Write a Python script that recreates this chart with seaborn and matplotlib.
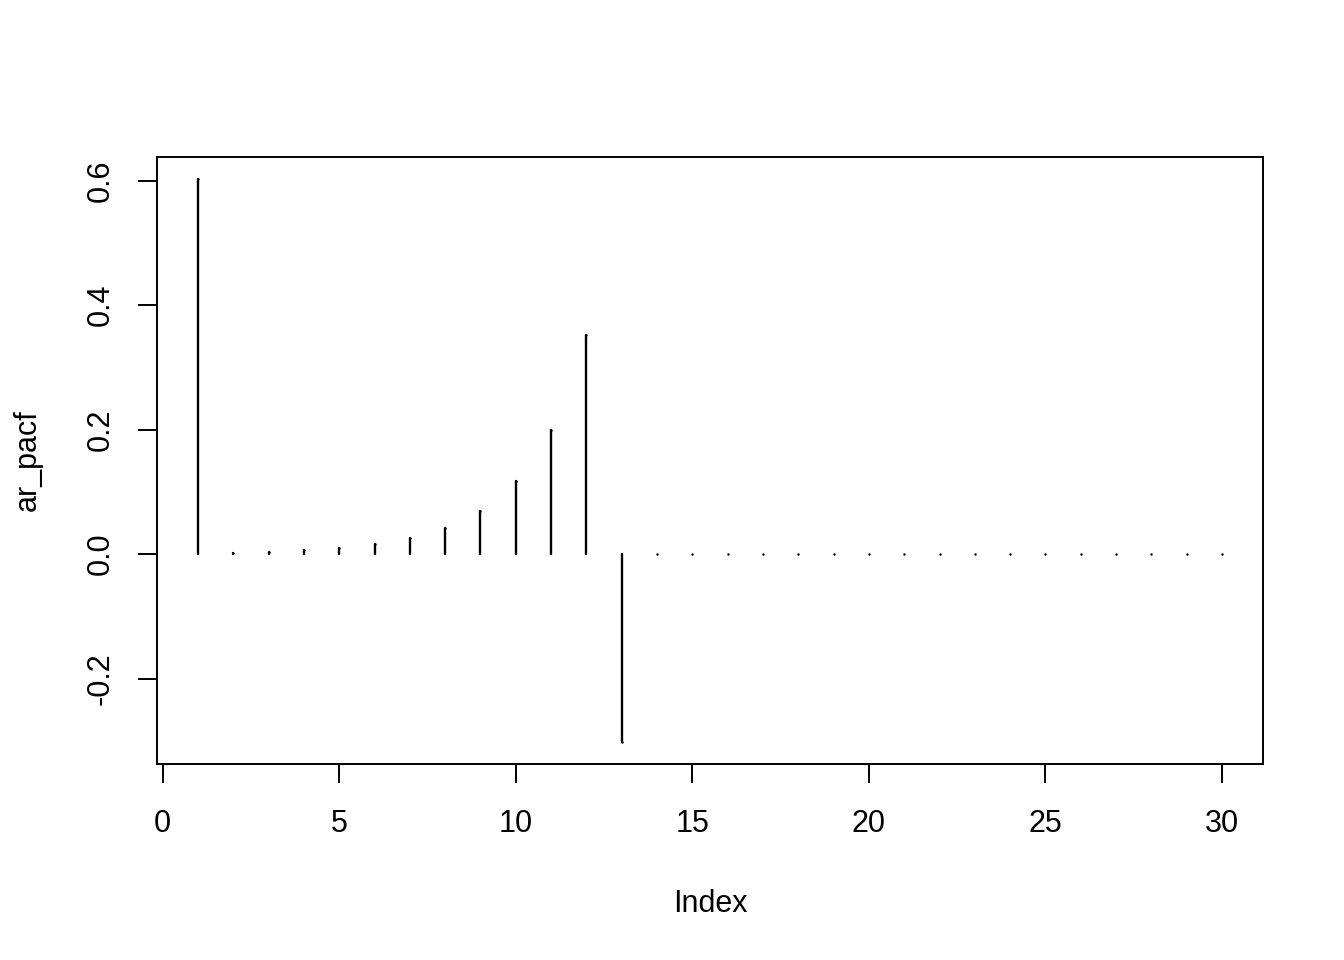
import matplotlib
matplotlib.use("Agg")
import matplotlib.pyplot as plt
import seaborn as sns
import pandas as pd

# ---- data ----
lags = list(range(1, 31))
pacf = [0.602, 0.002, 0.0035, 0.006, 0.0096, 0.016, 0.026, 0.042, 0.070,
        0.117, 0.199, 0.352, -0.301] + [0.0] * 17
xticks = [0, 5, 10, 15, 20, 25, 30]
yticks = [-0.2, 0.0, 0.2, 0.4, 0.6]
ytick_labels = ["-0.2", "0.0", "0.2", "0.4", "0.6"]

sns.set_style("white")
plt.rcParams["font.family"] = ["Liberation Sans", "DejaVu Sans"]

W, H = 1344, 960
fig = plt.figure(figsize=(W / 100, H / 100), dpi=100)
L, R, T, B = 157, 1263, 157, 764
ax = fig.add_axes([L / W, 1 - B / H, (R - L) / W, (B - T) / H])

df = pd.DataFrame({"lag": lags + lags, "value": [0.0] * len(lags) + pacf})
sns.lineplot(data=df, x="lag", y="value", units="lag", estimator=None,
             color="black", lw=1.7, ax=ax, legend=False, sort=False)
sns.scatterplot(x=lags, y=pacf, color="black", s=3, linewidth=0,
                marker="o", ax=ax, legend=False)

lo, hi = min(pacf), max(pacf)
pad = (hi - lo) * 0.04
ax.set_ylim(lo - pad, hi + pad)
ax.set_xlim(1 - 29 * 0.04, 30 + 29 * 0.04)

ax.set_xticks(xticks)
ax.set_xticklabels([str(t) for t in xticks])
ax.set_yticks(yticks)
ax.set_yticklabels(ytick_labels, rotation=90, va="center")

for s in ax.spines.values():
    s.set_visible(True)
    s.set_color("black")
    s.set_linewidth(1.4)

ax.tick_params(axis="both", which="both", bottom=True, left=True,
               direction="out", length=13.5, width=1.4, colors="black",
               labelsize=22)
ax.tick_params(axis="x", pad=19)
ax.tick_params(axis="y", pad=16)

ax.set_xlabel("Index", fontsize=22, color="black")
ax.set_ylabel("ar_pacf", fontsize=22, color="black")
ax.xaxis.set_label_coords(0.5, -(889 - B) / (B - T))
ax.yaxis.set_label_coords(-(157 - 43) / (R - L), 0.5)

fig.savefig("out.png", dpi=100)
